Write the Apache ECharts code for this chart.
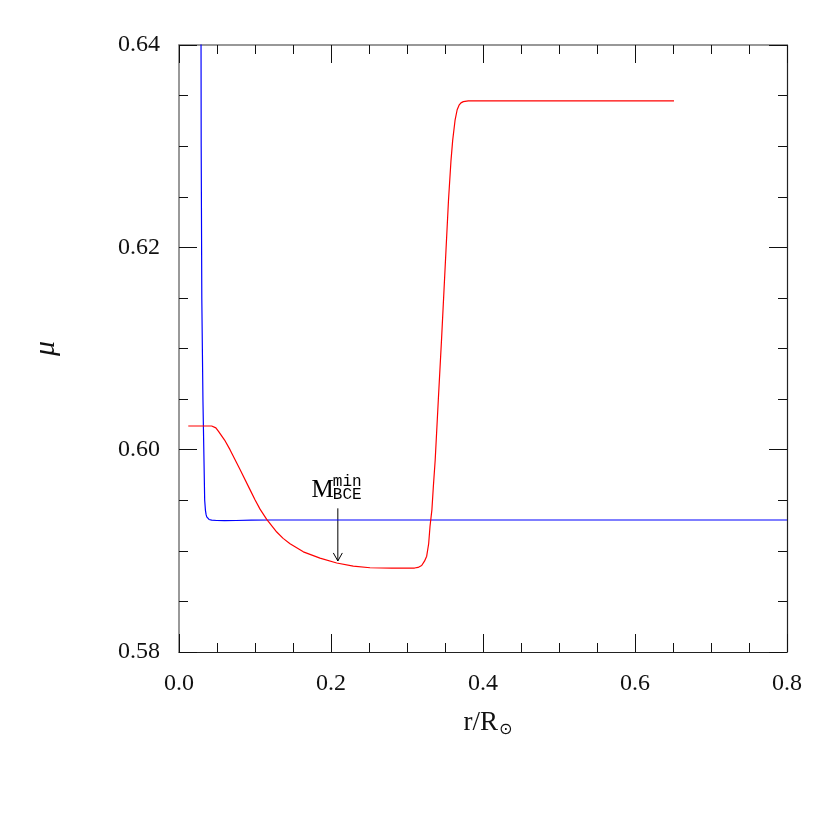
<!DOCTYPE html>
<html>
<head>
<meta charset="utf-8">
<script src="https://cdn.jsdelivr.net/npm/echarts@6/dist/echarts.min.js"></script>
<style>
html,body{margin:0;padding:0;background:#fff;}
#chart{width:830px;height:830px;}
</style>
</head>
<body>
<div id="chart"></div>
<script>
// Blue curve
const blueR  = [0.0288, 0.0292, 0.0300, 0.0315, 0.0338, 0.0348, 0.0356, 0.0365, 0.0378, 0.0395, 0.0430, 0.0496, 0.0600, 0.0750, 0.0950, 0.1200, 0.2000, 0.4000, 0.6000, 0.8000];
const blueMu = [0.6500, 0.6300, 0.6150, 0.6049, 0.5950, 0.5940, 0.5936, 0.59335, 0.59320, 0.59310, 0.59303, 0.59300, 0.59298, 0.59300, 0.59303, 0.59305, 0.59305, 0.59305, 0.59305, 0.59305];

// Red curve
const redR  = [0.0122, 0.0430, 0.0455, 0.0485, 0.0520, 0.0600, 0.0671, 0.0803, 0.0934, 0.1000, 0.1066, 0.1154, 0.1286, 0.1370, 0.1461, 0.1636, 0.1855, 0.2075, 0.2293, 0.2513, 0.2800, 0.3100, 0.3145, 0.3193, 0.3230, 0.3259, 0.3285, 0.3303, 0.3328, 0.3347, 0.3371, 0.3412, 0.3454, 0.3513, 0.3546, 0.3579, 0.3601, 0.3632, 0.3660, 0.3685, 0.3710, 0.3741, 0.3807, 0.5000, 0.6513];
const redMu = [0.60234, 0.60234, 0.60230, 0.60215, 0.60180, 0.60095, 0.60000, 0.59803, 0.59605, 0.59505, 0.59412, 0.59311, 0.59186, 0.59123, 0.59070, 0.58990, 0.58928, 0.58880, 0.58848, 0.58833, 0.58830, 0.58830, 0.58836, 0.58855, 0.58898, 0.58947, 0.59070, 0.59243, 0.59408, 0.59638, 0.59898, 0.60491, 0.61083, 0.61971, 0.62465, 0.62860, 0.63057, 0.63254, 0.63360, 0.63405, 0.63428, 0.63440, 0.63447, 0.63447, 0.63447];

// Annotation: arrow at r, from mu top to mu tip
const annotR = [0.209];
const annotTop = [0.5942];
const annotTip = [0.5890];

// Axis settings
const xTicks = [0.0, 0.2, 0.4, 0.6, 0.8];
const yTicks = [0.58, 0.60, 0.62, 0.64];

const FONT = '"Liberation Serif", "DejaVu Serif", serif';
const MONO = '"Liberation Mono", "DejaVu Sans Mono", monospace';

function zip(a, b){ return a.map((v,i)=>[v,b[i]]); }

const chart = echarts.init(document.getElementById('chart'), null, {renderer:'canvas'});

const tickCommon = {
  axisTick: {show:true, inside:true, length:18, lineStyle:{color:'#111', width:1}},
  minorTick: {show:true, splitNumber:4, length:9, lineStyle:{color:'#111', width:1}},
  splitLine: {show:false},
  minorSplitLine: {show:false}
};

const option = {
  backgroundColor:'#fff',
  animation:false,
  grid:{left:179, right:43, top:45, bottom:178, containLabel:false},
  xAxis:[
    Object.assign({
      type:'value', position:'bottom', min:xTicks[0], max:xTicks[xTicks.length-1], interval:0.2,
      axisLine:{show:true, onZero:false, lineStyle:{color:'#222', width:1.2}},
      axisLabel:{show:true, margin:20, fontFamily:FONT, fontSize:24, color:'#111', formatter:v=>v.toFixed(1)},
      name:'{a|r/R}{b|⊙}', nameLocation:'middle', nameGap:56,
      nameTextStyle:{padding:[0,0,0,10], rich:{a:{fontFamily:FONT, fontSize:27, color:'#111'}, b:{fontFamily:'"DejaVu Sans", sans-serif', fontSize:16, color:'#111', padding:[14,0,0,1]}}}
    }, tickCommon),
    Object.assign({
      type:'value', position:'top', min:xTicks[0], max:xTicks[xTicks.length-1], interval:0.2,
      axisLine:{show:true, onZero:false, lineStyle:{color:'#777', width:1.5}},
      axisLabel:{show:false}
    }, tickCommon)
  ],
  yAxis:[
    Object.assign({
      type:'value', position:'left', min:yTicks[0], max:yTicks[yTicks.length-1], interval:0.02,
      axisLine:{show:true, onZero:false, lineStyle:{color:'#777', width:1.5}},
      axisLabel:{show:true, margin:19, fontFamily:FONT, fontSize:24, color:'#111', formatter:v=>v.toFixed(2)},
      name:'μ', nameLocation:'middle', nameGap:118, nameRotate:90,
      nameTextStyle:{fontFamily:FONT, fontStyle:'italic', fontSize:30, color:'#111'}
    }, tickCommon),
    Object.assign({
      type:'value', position:'right', min:yTicks[0], max:yTicks[yTicks.length-1], interval:0.02,
      axisLine:{show:true, onZero:false, lineStyle:{color:'#222', width:1.2}},
      axisLabel:{show:false}
    }, tickCommon)
  ],
  series:[
    {type:'line', name:'blue', data:zip(blueR, blueMu), xAxisIndex:0, yAxisIndex:0, showSymbol:false, symbol:'none', clip:true,
     lineStyle:{color:'#0000ff', width:1.2}, smooth:false},
    {type:'line', name:'red', data:zip(redR, redMu), xAxisIndex:0, yAxisIndex:0, showSymbol:false, symbol:'none', clip:true,
     lineStyle:{color:'#ff0000', width:1.2}, smooth:false},
    {type:'custom', name:'annot', xAxisIndex:0, yAxisIndex:0, clip:false,
     data: annotR.map((r,i)=>[r, annotTop[i], annotTip[i]]),
     renderItem:function(params, api){
       const p1 = api.coord([api.value(0), api.value(1)]);
       const p2 = api.coord([api.value(0), api.value(2)]);
       return {type:'group', children:[
         {type:'line', shape:{x1:p1[0], y1:p1[1], x2:p2[0], y2:p2[1]}, style:{stroke:'#000', lineWidth:1}},
         {type:'polyline', shape:{points:[[p2[0]-4.5, p2[1]-8],[p2[0], p2[1]],[p2[0]+4.5, p2[1]-8]]}, style:{stroke:'#000', fill:null, lineWidth:1}},
         {type:'text', style:{text:'M', x:p1[0]-4, y:p1[1]-5, align:'right', verticalAlign:'bottom', font:'25px '+FONT, fill:'#000'}},
         {type:'text', style:{text:'min', x:p1[0]-5, y:p1[1]-19, align:'left', verticalAlign:'bottom', font:'16px '+MONO, fill:'#000'}},
         {type:'text', style:{text:'BCE', x:p1[0]-5, y:p1[1]-6, align:'left', verticalAlign:'bottom', font:'16px '+MONO, fill:'#000'}}
       ]};
     }
    }
  ]
};
chart.setOption(option);
</script>
</body>
</html>
